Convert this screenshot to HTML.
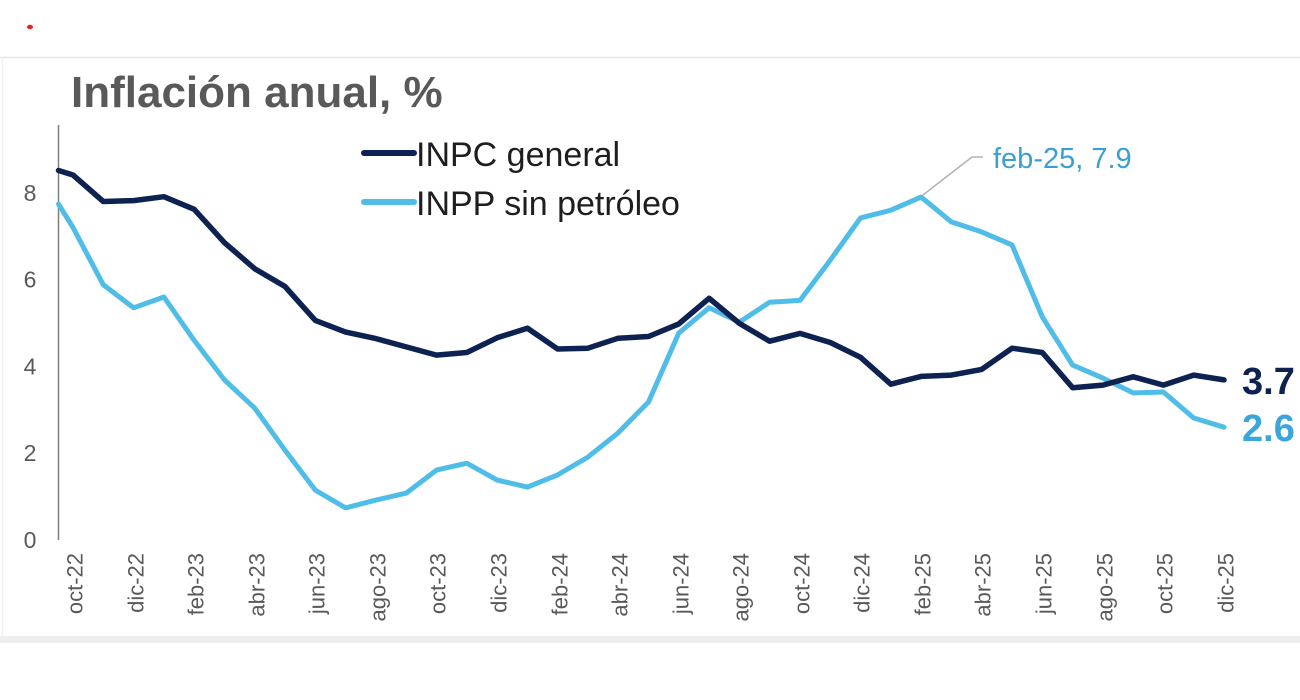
<!DOCTYPE html>
<html>
<head>
<meta charset="utf-8">
<style>
html,body{margin:0;padding:0;background:#fff;}
svg{display:block;}
text{font-family:"Liberation Sans",Arial,sans-serif;}
</style>
</head>
<body>
<svg width="1300" height="700" viewBox="0 0 1300 700" xmlns="http://www.w3.org/2000/svg">
<rect x="0" y="0" width="1300" height="700" fill="#fff"/>
<ellipse cx="30" cy="27" rx="3" ry="2.2" fill="#e8201a"/>
<!-- panel -->
<line x1="0" y1="57.5" x2="1300" y2="57.5" stroke="#e6e6e6" stroke-width="1.5"/>
<line x1="2.5" y1="57" x2="2.5" y2="636" stroke="#f0f0f0" stroke-width="1.5"/>
<rect x="0" y="636" width="1300" height="7" fill="#eeeeee"/>

<!-- title -->
<text x="71" y="107" font-size="44" font-weight="bold" fill="#595959">Inflación anual, %</text>

<!-- axis -->
<line x1="58.5" y1="125" x2="58.5" y2="540" stroke="#7f7f7f" stroke-width="1.5"/>

<!-- y labels -->
<g font-size="23" fill="#595959" text-anchor="middle" dominant-baseline="central">
<text x="30" y="192.8">8</text>
<text x="30" y="279.6">6</text>
<text x="30" y="366.4">4</text>
<text x="30" y="453.2">2</text>
<text x="30" y="540">0</text>
</g>

<!-- x labels -->
<g font-size="22" fill="#595959" text-anchor="end" dominant-baseline="central">
<text transform="translate(75,553) rotate(-90)">oct-22</text>
<text transform="translate(136,553) rotate(-90)">dic-22</text>
<text transform="translate(196,553) rotate(-90)">feb-23</text>
<text transform="translate(257,553) rotate(-90)">abr-23</text>
<text transform="translate(317,553) rotate(-90)">jun-23</text>
<text transform="translate(378,553) rotate(-90)">ago-23</text>
<text transform="translate(438,553) rotate(-90)">oct-23</text>
<text transform="translate(499,553) rotate(-90)">dic-23</text>
<text transform="translate(560,553) rotate(-90)">feb-24</text>
<text transform="translate(620,553) rotate(-90)">abr-24</text>
<text transform="translate(681,553) rotate(-90)">jun-24</text>
<text transform="translate(741,553) rotate(-90)">ago-24</text>
<text transform="translate(802,553) rotate(-90)">oct-24</text>
<text transform="translate(862,553) rotate(-90)">dic-24</text>
<text transform="translate(923,553) rotate(-90)">feb-25</text>
<text transform="translate(983,553) rotate(-90)">abr-25</text>
<text transform="translate(1044,553) rotate(-90)">jun-25</text>
<text transform="translate(1105,553) rotate(-90)">ago-25</text>
<text transform="translate(1165,553) rotate(-90)">oct-25</text>
<text transform="translate(1226,553) rotate(-90)">dic-25</text>
</g>

<!-- series -->
<polyline fill="none" stroke="#4fbde8" stroke-width="5" stroke-linejoin="round" stroke-linecap="round"
points="58.5,204.1 73,227.5 103.3,284.8 133.6,307.8 163.9,297.0 194.2,340.4 224.5,379.9 254.7,408.1 285.0,450.2 315.3,490.1 345.6,507.9 375.9,500.1 406.2,493.1 436.5,470.1 466.8,463.2 497.1,480.1 527.4,487.1 557.6,474.9 587.9,457.1 618.2,432.8 648.5,402.0 678.8,333.0 709.1,307.8 739.4,322.1 769.7,302.2 800.0,300.4 830.3,260.1 860.5,217.9 890.8,210.2 921.1,197.1 951.4,221.9 981.7,231.9 1012.0,244.9 1042.3,316.9 1072.6,365.1 1102.9,378.1 1133.2,392.9 1163.4,392.0 1193.7,418.0 1224.0,427.2"/>
<polyline fill="none" stroke="#0e2252" stroke-width="5.5" stroke-linejoin="round" stroke-linecap="round"
points="58.5,170.5 73,175.0 103.3,201.5 133.6,200.6 163.9,196.7 194.2,209.3 224.5,242.7 254.7,268.7 285.0,286.5 315.3,320.4 345.6,332.1 375.9,338.6 406.2,346.9 436.5,355.1 466.8,352.5 497.1,337.8 527.4,328.2 557.6,349.0 587.9,348.2 618.2,338.2 648.5,336.5 678.8,323.9 709.1,298.3 739.4,323.4 769.7,341.2 800.0,333.4 830.3,342.5 860.5,357.3 890.8,384.2 921.1,376.4 951.4,375.1 981.7,369.4 1012.0,348.2 1042.3,352.5 1072.6,387.7 1102.9,385.1 1133.2,376.8 1163.4,385.1 1193.7,375.1 1224.0,379.9"/>

<!-- annotation -->
<polyline fill="none" stroke="#b3b3b3" stroke-width="1.5" points="923,195 972,157 983,157"/>
<text x="993" y="168" font-size="29" fill="#3a9fd2">feb-25, 7.9</text>

<!-- end labels -->
<text x="1242" y="394" font-size="38" font-weight="bold" fill="#0e2252">3.7</text>
<text x="1242" y="441" font-size="38" font-weight="bold" fill="#3aa6dc">2.6</text>

<!-- legend -->
<line x1="364" y1="153" x2="414" y2="153" stroke="#0e2252" stroke-width="6" stroke-linecap="round"/>
<text x="416" y="166" font-size="34" fill="#1e1e1e">INPC general</text>
<line x1="364" y1="202" x2="414" y2="202" stroke="#4fbde8" stroke-width="6" stroke-linecap="round"/>
<text x="416" y="215" font-size="34" fill="#1e1e1e">INPP sin petróleo</text>
</svg>
</body>
</html>
